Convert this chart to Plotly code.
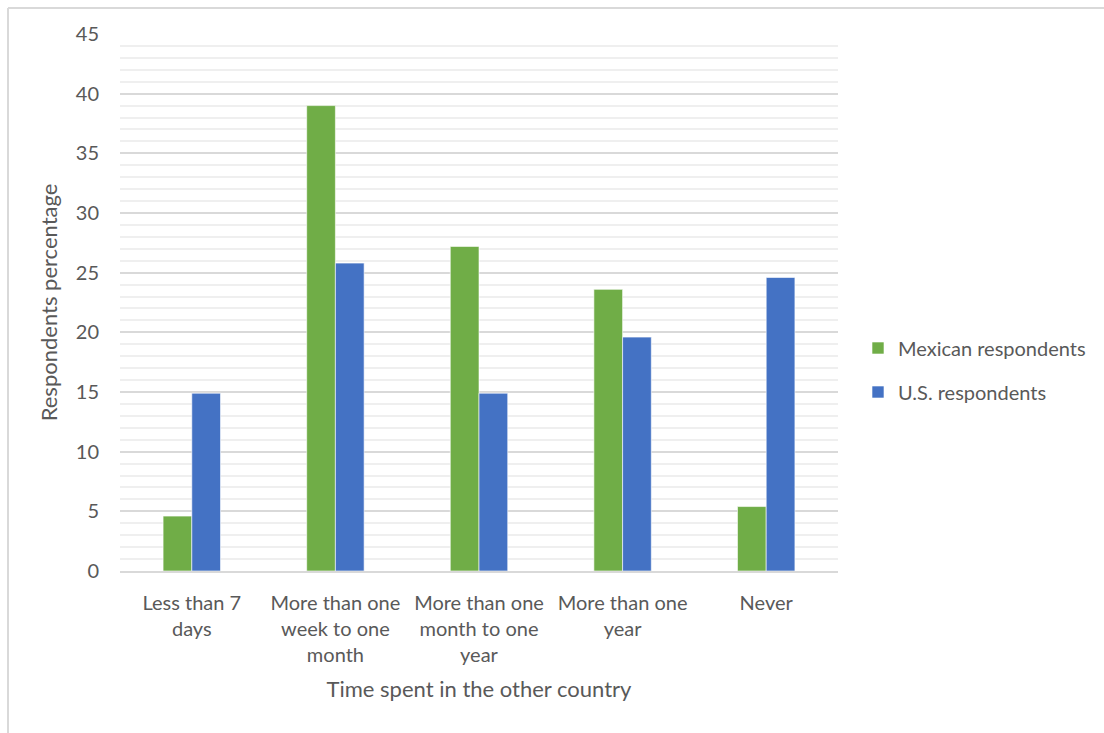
import plotly.graph_objects as go

categories = ["Less than 7<br>days", "More than one<br>week to one<br>month",
              "More than one<br>month to one<br>year", "More than one<br>year", "Never"]
mexican = [4.6, 39.0, 27.2, 23.6, 5.4]
us = [14.9, 25.8, 14.9, 19.6, 24.6]
series_names = ["Mexican respondents", "U.S. respondents"]
y_ticks = [0, 5, 10, 15, 20, 25, 30, 35, 40, 45]

W, H = 1104, 733
L, R, T, B = 120, 266, 34, 162
pw, ph = W - L - R, H - T - B

FONT = "Lato"
TXT = "#595959"

fig = go.Figure()
fig.add_trace(go.Bar(x=categories, y=mexican, name=series_names[0],
                     marker=dict(color="#70AD47", line=dict(color="white", width=0.6)),
                     legendgroup="a"))
fig.add_trace(go.Bar(x=categories, y=us, name=series_names[1],
                     marker=dict(color="#4472C4", line=dict(color="white", width=0.6)),
                     legendgroup="b"))

bx = -(L - 8) / pw
by = 1 + (T - 8) / ph
fig.add_shape(type="line", xref="paper", yref="paper", x0=bx, x1=1 + (R + 10) / pw,
              y0=by, y1=by, line=dict(color="#d9d9d9", width=2))
fig.add_shape(type="line", xref="paper", yref="paper", x0=bx, x1=bx,
              y0=-(B + 10) / ph, y1=by, line=dict(color="#d9d9d9", width=2))

fig.update_layout(
    width=W, height=H,
    margin=dict(l=L, r=R, t=T, b=B, pad=0, autoexpand=False),
    paper_bgcolor="white", plot_bgcolor="white",
    font=dict(family=FONT, color=TXT, size=20),
    barmode="group", bargap=0.6, bargroupgap=0,
    legend=dict(xref="container", yref="container", x=858 / W, y=1 - 370 / H,
                xanchor="left", yanchor="middle",
                traceorder="grouped", tracegroupgap=15,
                font=dict(family=FONT, size=20, color=TXT), itemwidth=30),
    xaxis=dict(showline=True, linecolor="#d9d9d9", linewidth=1.5, ticks="",
               ticklabelstandoff=13, automargin=False,
               tickfont=dict(size=20, color=TXT),
               title=dict(text="Time spent in the other country", font=dict(size=22, color=TXT),
                          standoff=17)),
    yaxis=dict(range=[0, 45], tickvals=y_ticks, showgrid=True, gridcolor="#d9d9d9",
               gridwidth=1.5, zeroline=False, ticks="", ticklabelstandoff=20,
               automargin=False,
               tickfont=dict(size=20, color=TXT),
               minor=dict(dtick=1, showgrid=True, gridcolor="#efefef", gridwidth=1.5),
               title=dict(text="Respondents percentage", font=dict(size=22, color=TXT),
                          standoff=12)),
)

fig.write_html("out.html")
